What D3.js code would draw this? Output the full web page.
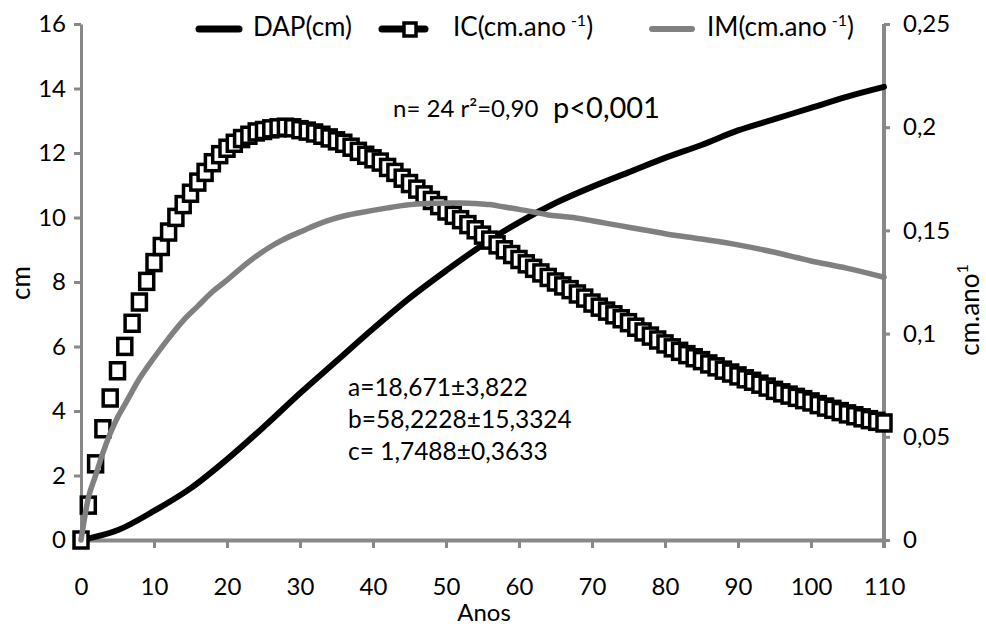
<!DOCTYPE html>
<html>
<head>
<meta charset="utf-8">
<script src="https://cdn.jsdelivr.net/npm/d3@7/dist/d3.min.js"></script>
<style>
  html, body { margin: 0; padding: 0; background: #fff; }
  svg { display: block; font-family: Lato, "Open Sans", sans-serif; }
</style>
</head>
<body>
<svg id="chart" width="986" height="628"></svg>
<script>
// ---------------- DATA ----------------
const dapYears = [0, 5, 10, 15, 20, 25, 30, 35, 40, 45, 50, 55, 60, 65, 70, 75, 80, 85, 90, 95, 100, 105, 110];
const dapValues = [0, 0.3, 0.9, 1.6, 2.5, 3.5, 4.55, 5.55, 6.55, 7.5, 8.35, 9.15, 9.85, 10.45, 10.95, 11.4, 11.85, 12.25, 12.7, 13.05, 13.4, 13.75, 14.05];

const imYears = [0, 1, 2, 3, 4, 5, 6, 8, 10, 12, 14, 16, 18, 20, 22, 24, 26, 28, 30, 32, 34, 36, 38, 40, 42, 44, 46, 48, 50, 52, 54, 56, 58, 60, 62, 64, 66, 68, 70, 72, 74, 76, 78, 80, 85, 90, 95, 100, 105, 110];
const imValues = [0, 0.0203, 0.0313, 0.0422, 0.0516, 0.0594, 0.0656, 0.0781, 0.0883, 0.0977, 0.1063, 0.1133, 0.1203, 0.1259, 0.132, 0.1375, 0.1422, 0.1461, 0.1492, 0.1523, 0.155, 0.157, 0.1584, 0.1597, 0.1609, 0.162, 0.1628, 0.1631, 0.1633, 0.1633, 0.163, 0.1625, 0.1613, 0.1602, 0.1589, 0.1575, 0.1567, 0.1559, 0.1547, 0.1534, 0.1522, 0.1509, 0.1497, 0.1484, 0.1458, 0.143, 0.1394, 0.1352, 0.1316, 0.1273];

// IC value for each year 0..110
const icValues = [
  0, 0.0169, 0.0369, 0.0539, 0.0688, 0.082, 0.0938, 0.105, 0.1153, 0.1253,
  0.1344, 0.1422, 0.1492, 0.1563, 0.1625, 0.168, 0.1734, 0.1781, 0.1828, 0.1867,
  0.1898, 0.1922, 0.1945, 0.1961, 0.1977, 0.1984, 0.1992, 0.1997, 0.2, 0.1997,
  0.1988, 0.1981, 0.1972, 0.1961, 0.1948, 0.1934, 0.1922, 0.1903, 0.1883, 0.1864,
  0.1847, 0.1831, 0.1805, 0.1781, 0.1753, 0.1727, 0.17, 0.1672, 0.1645, 0.162,
  0.1594, 0.1573, 0.1552, 0.1528, 0.1503, 0.1477, 0.1453, 0.143, 0.1406, 0.1383,
  0.1359, 0.1338, 0.1316, 0.1294, 0.1272, 0.125, 0.1231, 0.1213, 0.1192, 0.1172,
  0.1148, 0.1128, 0.1109, 0.1091, 0.1072, 0.1053, 0.1031, 0.1008, 0.0988, 0.0969,
  0.095, 0.0931, 0.0914, 0.0898, 0.0883, 0.0869, 0.0853, 0.0839, 0.0823, 0.0809,
  0.0795, 0.0781, 0.0769, 0.0755, 0.0741, 0.0725, 0.0713, 0.0702, 0.0691, 0.068,
  0.0669, 0.0656, 0.0644, 0.0633, 0.0622, 0.0611, 0.0602, 0.0592, 0.0583, 0.0575,
  0.0567
];

const xTicks = [0, 10, 20, 30, 40, 50, 60, 70, 80, 90, 100, 110];
const leftTicks = [0, 2, 4, 6, 8, 10, 12, 14, 16];
const rightTicks = [0, 0.05, 0.1, 0.15, 0.2, 0.25];
const rightTickLabels = ["0", "0,05", "0,1", "0,15", "0,2", "0,25"];

const legendLabels = ["DAP(cm)", "IC(cm.ano", "IM(cm.ano"];
const statText = "n= 24 r²=0,90";
const pText = "p<0,001";
const paramLines = ["a=18,671±3,822", "b=58,2228±15,3324", "c= 1,7488±0,3633"];

// ---------------- LAYOUT ----------------
const svg = d3.select("#chart");
const AX = "#888888";
const x = d3.scaleLinear().domain([0, 110]).range([81, 884]);
const yL = d3.scaleLinear().domain([0, 16]).range([540, 24]);
const yR = d3.scaleLinear().domain([0, 0.25]).range([540, 24]);

// Axes
const gx = svg.append("g").attr("transform", "translate(0,540)")
  .call(d3.axisBottom(x).tickValues(xTicks).tickSize(8).tickPadding(30).tickSizeOuter(0));
const gl = svg.append("g").attr("transform", "translate(81,0)")
  .call(d3.axisLeft(yL).tickValues(leftTicks).tickSize(7).tickPadding(8).tickSizeOuter(0));
const gr = svg.append("g").attr("transform", "translate(884,0)")
  .call(d3.axisRight(yR).tickValues(rightTicks).tickSize(6).tickPadding(13).tickSizeOuter(0)
    .tickFormat((d, i) => rightTickLabels[i]));

[gx, gl, gr].forEach(g => {
  g.selectAll("text").attr("fill", "#000").style("font-size", "24px").style("font-family", "Lato, sans-serif");
  g.selectAll("line").attr("stroke", AX).attr("stroke-width", 3);
});
gx.select(".domain").attr("stroke", AX).attr("stroke-width", 4);
gl.select(".domain").attr("stroke", AX).attr("stroke-width", 3);
gr.select(".domain").attr("stroke", AX).attr("stroke-width", 4);
gr.select(".domain").attr("d", "M0,24V548");

// Axis titles
svg.append("text").attr("x", 484).attr("y", 621).attr("text-anchor", "middle")
  .style("font-size", "24px").text("Anos");
svg.append("text").attr("transform", "translate(30,283) rotate(-90)").attr("text-anchor", "middle")
  .style("font-size", "26px").text("cm");
const rt = svg.append("text").attr("transform", "translate(979,310) rotate(-90)").attr("text-anchor", "middle")
  .style("font-size", "26px");
rt.append("tspan").text("cm.ano");
rt.append("tspan").attr("dy", -11).style("font-size", "16px").text("1");

// Series
const dapData = dapYears.map((d, i) => [d, dapValues[i]]);
const imData = imYears.map((d, i) => [d, imValues[i]]);
const icData = icValues.map((v, i) => [i, v]);

svg.append("path").datum(dapData)
  .attr("fill", "none").attr("stroke", "#000").attr("stroke-width", 6).attr("stroke-linecap", "round")
  .attr("d", d3.line().x(d => x(d[0])).y(d => yL(d[1])).curve(d3.curveMonotoneX));

svg.append("g").selectAll("rect").data(icData).join("rect")
  .attr("x", d => x(d[0]) - 7).attr("y", d => yR(d[1]) - 8)
  .attr("width", 14).attr("height", 16)
  .attr("fill", "#fff").attr("stroke", "#000").attr("stroke-width", 3.5);

svg.append("path").datum(imData)
  .attr("fill", "none").attr("stroke", "#808080").attr("stroke-width", 5.5).attr("stroke-linecap", "round")
  .attr("d", d3.line().x(d => x(d[0])).y(d => yR(d[1])).curve(d3.curveMonotoneX));

// Legend
const lg = svg.append("g");
lg.append("line").attr("x1", 199).attr("x2", 239).attr("y1", 29).attr("y2", 29)
  .attr("stroke", "#000").attr("stroke-width", 7).attr("stroke-linecap", "round");
lg.append("text").attr("x", 253).attr("y", 36).style("font-size", "26px").text(legendLabels[0]);

lg.append("line").attr("x1", 382).attr("x2", 425).attr("y1", 29).attr("y2", 29)
  .attr("stroke", "#000").attr("stroke-width", 7).attr("stroke-linecap", "round");
lg.append("rect").attr("x", 404).attr("y", 23).attr("width", 12).attr("height", 13)
  .attr("fill", "#fff").attr("stroke", "#000").attr("stroke-width", 3.5);
const t2 = lg.append("text").attr("x", 453).attr("y", 36).style("font-size", "26px");
t2.append("tspan").text(legendLabels[1]);
t2.append("tspan").attr("dx", 5).attr("dy", -10).style("font-size", "16px").text("-1");
t2.append("tspan").attr("dy", 10).text(")");

lg.append("line").attr("x1", 652).attr("x2", 692).attr("y1", 29).attr("y2", 29)
  .attr("stroke", "#808080").attr("stroke-width", 6).attr("stroke-linecap", "round");
const t3 = lg.append("text").attr("x", 707).attr("y", 36).style("font-size", "26px");
t3.append("tspan").text(legendLabels[2]);
t3.append("tspan").attr("dx", 5).attr("dy", -10).style("font-size", "16px").text("-1");
t3.append("tspan").attr("dy", 10).text(")");

// Annotations
svg.append("text").attr("x", 393).attr("y", 117).style("font-size", "24px").text(statText);
svg.append("text").attr("x", 553).attr("y", 118).style("font-size", "29px").text(pText);
paramLines.forEach((t, i) => {
  svg.append("text").attr("x", 348).attr("y", 396 + i * 32).style("font-size", "24.5px").text(t);
});
</script>
</body>
</html>
